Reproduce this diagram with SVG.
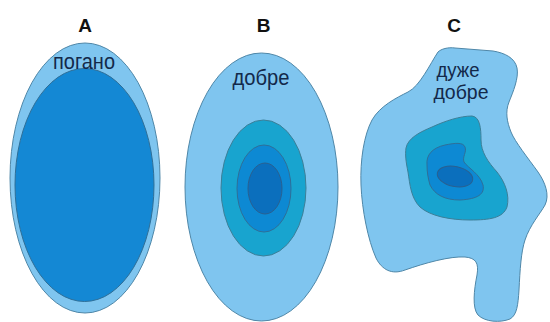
<svg xmlns="http://www.w3.org/2000/svg" width="550" height="322" viewBox="0 0 550 322">
<style>
.l0{fill:#7fc5ef;stroke:#4f87a8;stroke-width:1}
.l1{fill:#18a4cf;stroke:#3c7f98;stroke-width:1}
.l2{fill:#0d89d3;stroke:#2f6f98;stroke-width:1}
.l3{fill:#0b6fbd;stroke:#2a6090;stroke-width:1}
.la{fill:#1488d4;stroke:#2f6f98;stroke-width:1}
.hd{font-family:"Liberation Sans",Arial,sans-serif;font-weight:bold;font-size:19px;fill:#111;text-anchor:middle}
.tx{font-family:"Liberation Sans",Arial,sans-serif;font-size:22px;fill:#13294a;text-anchor:middle}
.tc{font-size:20px}
</style>
<rect width="550" height="322" fill="#ffffff"/>
<g id="A">
<ellipse class="l0" cx="85" cy="178" rx="75" ry="135"/>
<ellipse class="la" cx="84.5" cy="185" rx="69.5" ry="116.5"/>
<text class="hd" x="85" y="32">A</text>
<text class="tx" x="84" y="69" textLength="62" lengthAdjust="spacingAndGlyphs">погано</text>
</g>
<g id="B">
<ellipse class="l0" cx="261.5" cy="187" rx="76.5" ry="134"/>
<ellipse class="l1" cx="263.5" cy="188" rx="42.5" ry="68"/>
<ellipse class="l2" cx="264" cy="188.5" rx="27" ry="43.5"/>
<ellipse class="l3" cx="265" cy="188.5" rx="17" ry="25.5"/>
<text class="hd" x="263.5" y="32">B</text>
<text class="tx" x="261" y="85" textLength="57" lengthAdjust="spacingAndGlyphs">добре</text>
</g>
<g id="C">
<path class="l0" d="M438,52 C441,49 448,47 455,48 L493,51 C505,53 515,58 517,68 C519,78 513,92 509,102 C505,112 507,122 511,132 C515,142 528,158 538,172 C545,182 550,195 545,205 C540,214 530,225 525,240 C521,252 520,270 519,290 C518,305 517,315 510,319 C500,323 485,322 478,315 C472,308 474,290 477,275 C479,263 476,258 465,257 C450,256 425,263 405,270 C392,275 382,270 376,258 C368,240 362,210 361,185 C360,160 364,135 372,120 C380,106 396,98 408,92 C420,86 430,64 438,52 Z"/>
<path class="l1" d="M406,148 C408,138 420,132 432,127 C445,121 460,116 472,116 C480,117 481,128 481,140 C481,152 488,162 497,172 C505,182 510,195 507,207 C503,218 490,220 470,220 C450,220 430,216 420,207 C411,198 410,185 408,172 C406,162 405,155 406,148 Z"/>
<path class="l2" d="M427,165 C426,155 432,148 445,145 C455,143 463,142 465,147 C467,152 462,157 464,162 C468,168 480,174 483,185 C485,194 478,199 460,200 C445,200 435,195 430,185 C428,178 427,172 427,165 Z"/>
<ellipse class="l3" cx="455" cy="176.5" rx="18" ry="10" transform="rotate(12 455 176.5)"/>
<text class="hd" x="454" y="32">C</text>
<text class="tx tc" x="458" y="77" textLength="43" lengthAdjust="spacingAndGlyphs">дуже</text>
<text class="tx tc" x="461" y="99" textLength="55" lengthAdjust="spacingAndGlyphs">добре</text>
</g>
<g id="connectors"/>
</svg>
